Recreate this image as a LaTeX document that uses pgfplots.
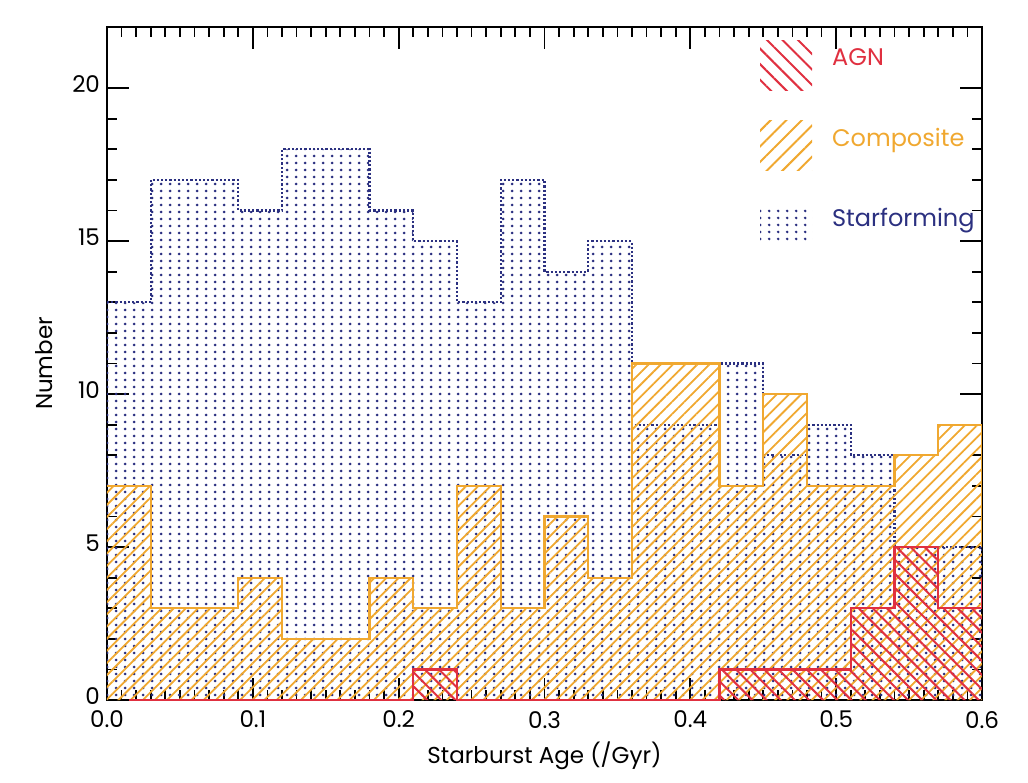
\documentclass[border=0pt]{standalone}
\usepackage{fontspec}
\setmainfont{Poppins}
\usepackage{pgfplots}
\pgfplotsset{compat=1.18}
\usetikzlibrary{patterns.meta}
\definecolor{sfblue}{HTML}{2B3080}
\definecolor{comporange}{HTML}{F0A830}
\definecolor{agnred}{HTML}{E03040}
\tikzdeclarepattern{
  name=sfdots,
  type=uncolored,
  bounding box={(0pt,0pt) and (4.3pt,3.25pt)},
  tile size={(4.3pt,3.25pt)},
  code={\fill (2.15pt,1.62pt) circle (0.75pt);}
}
\pgfplotstableread{
x y
0.00 13
0.03 17
0.06 17
0.09 16
0.12 18
0.15 18
0.18 16
0.21 15
0.24 13
0.27 17
0.30 14
0.33 15
0.36 9
0.39 9
0.42 11
0.45 8
0.48 9
0.51 8
0.54 5
0.57 5
0.60 4
}\sfdata
\pgfplotstableread{
x y
0.00 7
0.03 3
0.06 3
0.09 4
0.12 2
0.15 2
0.18 4
0.21 3
0.24 7
0.27 3
0.30 6
0.33 4
0.36 11
0.39 11
0.42 7
0.45 10
0.48 7
0.51 7
0.54 8
0.57 9
0.60 5
}\compdata
\pgfplotstableread{
x y
0.015 0
0.21 1
0.24 0
0.42 1
0.45 1
0.48 1
0.51 3
0.54 5
0.57 3
0.60 4
}\agndata
\begin{document}
\begin{tikzpicture}
\path[use as bounding box] (0,0) rectangle (514pt,391pt);
\begin{axis}[
  at={(53.5pt,41pt)}, anchor=south west,
  scale only axis, width=437.5pt, height=336.5pt,
  xmin=0, xmax=0.6, ymin=0, ymax=22,
  xtick={0,0.1,...,0.6}, minor x tick num=9,
  ytick={0,5,10,15,20}, minor y tick num=4,
  tick align=inside,
  major tick length=11pt, minor tick length=5pt,
  every tick/.style={black, line width=0.9pt},
  axis line style={line width=1.1pt},
  /pgf/number format/assume math mode=true,
  ticklabel style={font=\fontsize{11.5}{13}\selectfont},
  xticklabel style={yshift=-2pt, /pgf/number format/.cd, fixed, fixed zerofill, precision=1},
  yticklabel style={yshift=2pt},
  label style={font=\fontsize{11.5}{13}\selectfont},
  xlabel={Starburst Age (/Gyr)},
  ylabel={Number},
  xlabel style={yshift=0pt},
  ylabel style={yshift=3pt},
  legend style={draw=none, fill=none, at={(0.746,0.981)}, anchor=north west,
    inner sep=0pt, row sep=15pt, font=\fontsize{12}{14}\selectfont,
    nodes={inner sep=0pt, text depth=0pt}},
  legend cell align=left,
  const plot mark left,
]
% Starforming
\addplot[forget plot, draw=none, pattern=sfdots, pattern color=sfblue] table {\sfdata} \closedcycle;
\addplot[forget plot, sfblue, densely dotted, line width=1.1pt] table {\sfdata};
% Composite
\addplot[forget plot, draw=none, pattern={Lines[angle=45,distance=4.3pt,line width=0.9pt]}, pattern color=comporange] table {\compdata} \closedcycle;
\addplot[forget plot, comporange, line width=1.1pt] table {\compdata};
% AGN
\addplot[forget plot, draw=none, pattern={Lines[angle=-45,distance=5pt,line width=1pt]}, pattern color=agnred] table {\agndata} \closedcycle;
\addplot[forget plot, agnred, line width=1.1pt] table {\agndata};

\addlegendimage{legend image code/.code={\path[draw=none, pattern={Lines[angle=-45,distance=5.5pt,line width=1pt]}, pattern color=agnred] (0pt,-16.5pt) rectangle (26pt,8.5pt); \path[draw=none] (36pt,0pt);}}
\addlegendentry{\textcolor{agnred}{AGN}}
\addlegendimage{legend image code/.code={\path[draw=none, pattern={Lines[angle=45,distance=5.5pt,line width=1pt]}, pattern color=comporange] (0pt,-16.5pt) rectangle (26pt,8.5pt); \path[draw=none] (36pt,0pt);}}
\addlegendentry{\textcolor{comporange}{Composite}}
\addlegendimage{legend image code/.code={\path[draw=none, pattern=sfdots, pattern color=sfblue] (0pt,-13pt) rectangle (26pt,4pt); \path[draw=none] (0pt,-16.5pt) rectangle (36pt,8.5pt);}}
\addlegendentry{\textcolor{sfblue}{Starforming}}
\end{axis}
\end{tikzpicture}
\end{document}
